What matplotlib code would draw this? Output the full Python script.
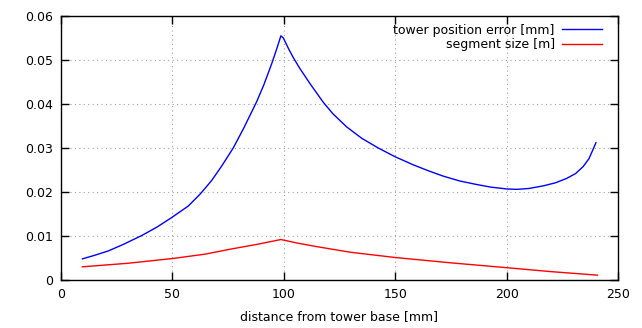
import matplotlib.pyplot as plt
from matplotlib.ticker import FormatStrFormatter

# distance from tower base [mm] and tower position error [mm]
err_x = [9.6, 15, 21.2, 28, 36.2, 43, 49.7, 57.1, 62.4, 67.6, 72, 77.3, 82, 87.8,
         91, 94.6, 97, 98.7, 99.8, 102, 104.3, 107.3, 111.8, 117.7, 122, 128.2,
         135, 142.4, 150, 158, 165, 171.6, 179, 186.6, 193, 200, 204.5, 210,
         216.5, 222, 227, 231, 234.4, 237, 238.9, 240.1]
err_y = [0.0048, 0.0056, 0.0066, 0.0081, 0.0101, 0.0120, 0.0142, 0.0168, 0.0195,
         0.0226, 0.0258, 0.0300, 0.0345, 0.0405, 0.0443, 0.0492, 0.0528, 0.0555,
         0.0550, 0.0527, 0.0505, 0.0480, 0.0446, 0.0404, 0.0378, 0.0348, 0.0322,
         0.0300, 0.0280, 0.0262, 0.0248, 0.0236, 0.0225, 0.0217, 0.0211, 0.0207,
         0.0206, 0.0208, 0.0214, 0.0221, 0.0231, 0.0242, 0.0258, 0.0276, 0.0298,
         0.0312]

# segment size [m]
seg_x = [9.6, 30, 50.4, 65, 75.9, 88, 98.7, 106, 114.6, 130, 150.2, 175, 200,
         220, 240.8]
seg_y = [0.0030, 0.0038, 0.0049, 0.0059, 0.0070, 0.0081, 0.0092, 0.0084, 0.0076,
         0.0063, 0.0051, 0.0039, 0.0028, 0.0019, 0.0011]

plt.rcParams['font.family'] = 'DejaVu Sans'
plt.rcParams['font.size'] = 9

fig = plt.figure(figsize=(6.42, 3.28), dpi=100)
ax = fig.add_axes([61 / 642, 1 - 280 / 328, 557 / 642, 264 / 328])

ax.plot(err_x, err_y, color="#0000ff", lw=1, label="tower position error [mm]")
ax.plot(seg_x, seg_y, color="#ff0000", lw=1, label="segment size [m]")

ax.set_xlim(0, 250)
ax.set_ylim(0, 0.06)
ax.set_xticks(range(0, 251, 50))
ax.set_yticks([0, 0.01, 0.02, 0.03, 0.04, 0.05, 0.06])
ax.yaxis.set_major_formatter(FormatStrFormatter('%g'))
ax.tick_params(direction="in", top=True, right=True, length=6, width=1, pad=6)
ax.grid(True, color="#a0a0a0", linestyle=(0, (1, 3)), linewidth=0.8)
for s in ax.spines.values():
    s.set_linewidth(1)

ax.set_xlabel("distance from tower base [mm]", labelpad=6)
ax.legend(loc="upper right", bbox_to_anchor=(1 - 7 / 557, 1 + 1 / 264),
          frameon=False, markerfirst=False,
          handlelength=3.2, handletextpad=0.6, borderaxespad=0.3,
          labelspacing=0.1, fontsize=9)

fig.savefig("out.png", dpi=100)
